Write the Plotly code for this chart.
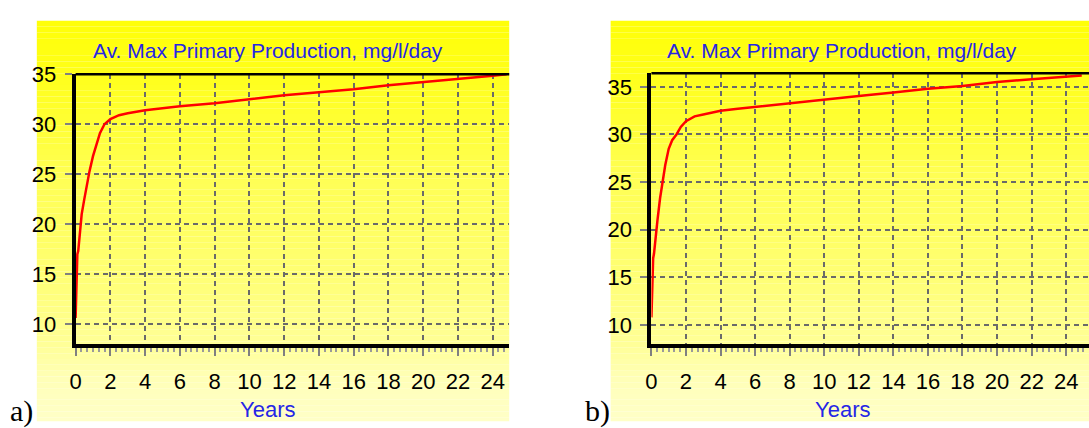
import plotly.graph_objects as go

# ---------------- data ----------------
years_a = [0, 0.05, 0.1, 0.15, 0.25, 0.35, 0.5, 0.65, 0.8, 1.0, 1.2, 1.4, 1.66, 2.0, 2.5, 3,
           4, 5, 6, 8, 10, 12, 14, 16, 18, 20, 22, 24, 24.8]
prod_a = [10.6, 14.0, 17.0, 17.3, 19.5, 21.0, 22.5, 24.0, 25.3, 26.8, 28.0, 29.1, 30.0, 30.5, 30.9, 31.1,
          31.4, 31.6, 31.8, 32.1, 32.5, 32.9, 33.2, 33.5, 33.9, 34.2, 34.5, 34.85, 35.0]

years_b = [0, 0.05, 0.1, 0.15, 0.25, 0.35, 0.5, 0.63, 0.8, 1.0, 1.2, 1.45, 1.7, 2.0, 2.5, 3,
           4, 5, 6, 8, 10, 12, 14, 16, 18, 20, 22, 24, 24.9]
prod_b = [10.8, 14.0, 17.0, 17.5, 19.5, 21.0, 23.3, 25.0, 26.8, 28.5, 29.4, 30.0, 30.8, 31.4, 31.9, 32.1,
          32.5, 32.7, 32.9, 33.3, 33.7, 34.05, 34.4, 34.8, 35.1, 35.5, 35.8, 36.1, 36.2]

x_ticks = list(range(0, 25, 2))
y_ticks = [10, 15, 20, 25, 30, 35]
title_text = "Av. Max Primary Production, mg/l/day"
x_title = "Years"
panel_labels = ["a)", "b)"]

# ---------------- layout helpers ----------------
W, H = 1089, 428
def px(x):
    return x / W
def py(y):
    return (H - y) / H

fig = go.Figure()
fig.add_trace(go.Scatter(x=years_a, y=prod_a, mode="lines", line=dict(color="#ff0000", width=2.5),
                         xaxis="x", yaxis="y", showlegend=False, hoverinfo="skip"))
fig.add_trace(go.Scatter(x=years_b, y=prod_b, mode="lines", line=dict(color="#ff0000", width=2.5),
                         xaxis="x2", yaxis="y2", showlegend=False, hoverinfo="skip"))

tickfont = dict(family="Liberation Sans, Arial", size=22, color="black")
grid = dict(showgrid=True, gridcolor="#6a6a6a", gridwidth=1.5, griddash="5px,4px")

def xaxis(domain, rng, anchor):
    return dict(domain=domain, range=rng, anchor=anchor, tickvals=x_ticks, ticks="outside",
                ticklen=8, tickcolor="#808080", tickwidth=1.5, showline=True, linecolor="black",
                linewidth=3.5, zeroline=False, tickfont=tickfont, ticklabelstandoff=6,
                minor=dict(dtick=1/3, ticks="outside", ticklen=4, tickcolor="#9a9a9a", showgrid=False),
                **grid)

def yaxis(domain, rng, anchor):
    return dict(domain=domain, range=rng, anchor=anchor, tickvals=y_ticks, ticks="outside",
                ticklen=7, tickcolor="#808080", tickwidth=1.5, showline=True, linecolor="black",
                linewidth=4, zeroline=False, tickfont=tickfont, ticklabelstandoff=4, **grid)

fig.update_layout(
    width=W, height=H, margin=dict(l=0, r=0, t=0, b=0),
    paper_bgcolor="white", plot_bgcolor="rgba(0,0,0,0)",
    xaxis=xaxis([px(70), px(506)], [0, 24.95], "y"),
    yaxis=yaxis([py(342), py(64)], [7.96, 35.0], "x"),
    xaxis2=xaxis([px(649), 1.0], [0, 25.32], "y2"),
    yaxis2=yaxis([py(342), py(63)], [7.96, 36.43], "x2"),
)

# gradient background (yellow -> pale) built from bands
stops = [(9, 8), (55, 22), (110, 50), (170, 85), (230, 100), (290, 125), (340, 150), (380, 185), (421, 200)]
def blue_at(y):
    for (y0, b0), (y1, b1) in zip(stops[:-1], stops[1:]):
        if y0 <= y <= y1:
            return b0 + (b1 - b0) * (y - y0) / (y1 - y0)
    return stops[-1][1]

shapes = []
for x0, x1 in [(31, 506), (608, 1089)]:
    y = 9
    step = 6
    while y < 421:
        y2 = min(y + step, 421)
        b = int(round(blue_at((y + y2) / 2)))
        shapes.append(dict(type="rect", xref="paper", yref="paper", x0=px(x0), x1=px(x1),
                           y0=py(y2), y1=py(y), fillcolor=f"rgb(255,255,{b})", line=dict(width=0),
                           layer="below"))
        y = y2
# top borders
for xr, yr in [("x domain", "y domain"), ("x2 domain", "y2 domain")]:
    shapes.append(dict(type="line", xref=xr, yref=yr, x0=0, x1=1, y0=1, y1=1,
                       line=dict(color="black", width=2.5)))
fig.update_layout(shapes=shapes)

blue = "#2626e6"
ann = []
for cx in [263, 841]:
    ann.append(dict(text=title_text, x=px(cx), y=py(40), xref="paper", yref="paper", showarrow=False,
                    xanchor="center", yanchor="middle",
                    font=dict(family="Liberation Sans, Arial", size=21, color=blue)))
    ann.append(dict(text=x_title, x=px(cx), y=py(409), xref="paper", yref="paper", showarrow=False,
                    xanchor="center", yanchor="middle",
                    font=dict(family="Liberation Sans, Arial", size=22, color=blue)))
for lbl, lx in zip(panel_labels, [2, 580]):
    ann.append(dict(text=lbl, x=px(lx), y=py(410), xref="paper", yref="paper", showarrow=False,
                    xanchor="left", yanchor="middle",
                    font=dict(family="Liberation Serif, Times New Roman", size=30, color="black")))
fig.update_layout(annotations=ann)

fig.write_html("out.html")
